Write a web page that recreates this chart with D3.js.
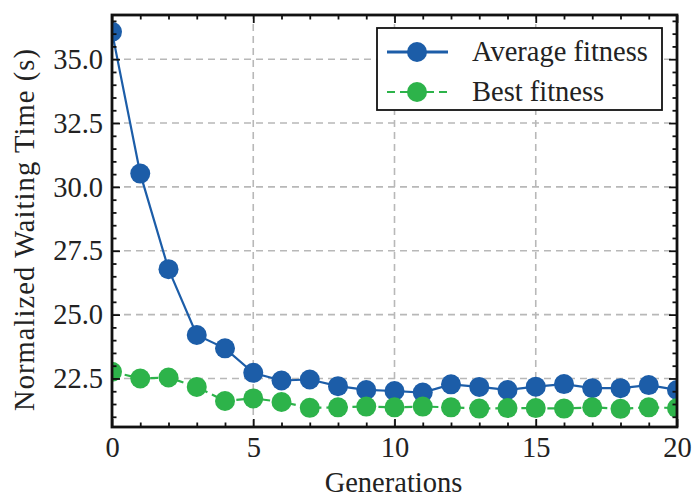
<!DOCTYPE html>
<html><head><meta charset="utf-8">
<script src="https://cdn.jsdelivr.net/npm/d3@7"></script>
<style>body{margin:0;background:#fff}svg{display:block}text{font-family:"Liberation Serif","Times New Roman",serif;fill:#222}</style>
</head><body><svg id="c" width="692" height="497"></svg>
<script>
const generations = d3.range(0, 21);
const averageFitness = [36.07, 30.52, 26.78, 24.2, 23.68, 22.72, 22.42, 22.46, 22.2, 22.05, 22.01, 21.95, 22.27, 22.17, 22.05, 22.18, 22.28, 22.12, 22.12, 22.24, 22.05];
const bestFitness = [22.76, 22.5, 22.54, 22.17, 21.62, 21.72, 21.58, 21.35, 21.37, 21.4, 21.37, 21.4, 21.37, 21.32, 21.34, 21.34, 21.32, 21.37, 21.31, 21.37, 21.34];
const xTicks = [0, 5, 10, 15, 20];
const yTicks = [22.5, 25.0, 27.5, 30.0, 32.5, 35.0];
const seriesNames = ["Average fitness", "Best fitness"];
const colors = ["#1C5DA8", "#2DB34A"];

const W = 692, H = 497;
const m = {l: 112, r: 15, t: 15, b: 70};
const FS = 28.5;
const svg = d3.select("#c");
const x = d3.scaleLinear().domain([0, 20]).range([m.l, W - m.r]);
const y = d3.scaleLinear().domain([20.6, 36.73]).range([H - m.b, m.t]);
const X0 = m.l, X1 = W - m.r, Y0 = H - m.b, Y1 = m.t;

svg.append("defs").append("clipPath").attr("id", "clip").append("rect")
  .attr("x", X0).attr("y", Y1).attr("width", X1 - X0).attr("height", Y0 - Y1);

// grid
const grid = svg.append("g").attr("stroke", "#b8b8b8").attr("stroke-width", 1.6).attr("stroke-dasharray", "7,5");
xTicks.forEach(v => grid.append("line").attr("x1", x(v)).attr("x2", x(v)).attr("y1", Y0).attr("y2", Y1));
yTicks.forEach(v => grid.append("line").attr("x1", X0).attr("x2", X1).attr("y1", y(v)).attr("y2", y(v)));

// series
const plot = svg.append("g").attr("clip-path", "url(#clip)");
[averageFitness, bestFitness].forEach((vals, i) => {
  const line = d3.line().x((d, j) => x(generations[j])).y(d => y(d));
  plot.append("path").datum(vals).attr("d", line).attr("fill", "none")
    .attr("stroke", colors[i]).attr("stroke-width", 2.2)
    .attr("stroke-dasharray", i === 1 ? "8,5" : null);
  plot.selectAll(null).data(vals).enter().append("circle")
    .attr("cx", (d, j) => x(generations[j])).attr("cy", d => y(d)).attr("r", 10)
    .attr("fill", colors[i]);
});

function ticksAxis(axisGen, transform) {
  const g = svg.append("g").attr("transform", transform).call(axisGen);
  g.select(".domain").remove();
  g.selectAll("line").attr("stroke", "#111").attr("stroke-width", 1.8);
  g.selectAll("text").attr("font-size", FS).attr("fill", "#222")
    .style("font-family", '"Liberation Serif","Times New Roman",serif');
  return g;
}
const fmt = d3.format(".1f");
ticksAxis(d3.axisBottom(x).tickValues(xTicks).tickSizeInner(-8).tickSizeOuter(0).tickPadding(10).tickFormat(d3.format("d")), `translate(0,${Y0})`);
ticksAxis(d3.axisTop(x).tickValues(xTicks).tickSizeInner(-8).tickSizeOuter(0).tickFormat(""), `translate(0,${Y1})`);
ticksAxis(d3.axisLeft(y).tickValues(yTicks).tickSizeInner(-8).tickSizeOuter(0).tickPadding(9).tickFormat(fmt), `translate(${X0},0)`);
ticksAxis(d3.axisRight(y).tickValues(yTicks).tickSizeInner(-8).tickSizeOuter(0).tickFormat(""), `translate(${X1},0)`);
const xMinor = d3.range(0, 21).filter(v => v % 5 !== 0);
const yMinor = d3.range(21, 36.6, 0.5).filter(v => Math.abs((v / 2.5) - Math.round(v / 2.5)) > 1e-6);
ticksAxis(d3.axisBottom(x).tickValues(xMinor).tickSizeInner(-4.5).tickSizeOuter(0).tickFormat(""), `translate(0,${Y0})`);
ticksAxis(d3.axisTop(x).tickValues(xMinor).tickSizeInner(-4.5).tickSizeOuter(0).tickFormat(""), `translate(0,${Y1})`);
ticksAxis(d3.axisLeft(y).tickValues(yMinor).tickSizeInner(-4.5).tickSizeOuter(0).tickFormat(""), `translate(${X0},0)`);
ticksAxis(d3.axisRight(y).tickValues(yMinor).tickSizeInner(-4.5).tickSizeOuter(0).tickFormat(""), `translate(${X1},0)`);

// frame
svg.append("rect").attr("x", X0).attr("y", Y1).attr("width", X1 - X0).attr("height", Y0 - Y1)
  .attr("fill", "none").attr("stroke", "#111").attr("stroke-width", 2.8);

// axis labels
svg.append("text").attr("x", (X0 + X1) / 2 - 1).attr("y", 492).attr("text-anchor", "middle")
  .attr("font-size", FS).text("Generations");
svg.append("text").attr("transform", `translate(34,230) rotate(-90)`).attr("text-anchor", "middle")
  .attr("font-size", FS).attr("textLength", 362).attr("lengthAdjust", "spacing")
  .text("Normalized Waiting Time (s)");

// legend
const lg = svg.append("g");
lg.append("rect").attr("x", 377).attr("y", 28).attr("width", 285).attr("height", 82)
  .attr("fill", "#fff").attr("stroke", "#111").attr("stroke-width", 1.8);
seriesNames.forEach((name, i) => {
  const yy = 52 + i * 40;
  lg.append("line").attr("x1", 387).attr("x2", 448).attr("y1", yy).attr("y2", yy)
    .attr("stroke", colors[i]).attr("stroke-width", i === 0 ? 3 : 2.2)
    .attr("stroke-dasharray", i === 1 ? "8,5" : null);
  lg.append("circle").attr("cx", 417).attr("cy", yy).attr("r", 10).attr("fill", colors[i]);
  lg.append("text").attr("x", 472).attr("y", yy + 9).attr("font-size", FS).text(name);
});
</script></body></html>
